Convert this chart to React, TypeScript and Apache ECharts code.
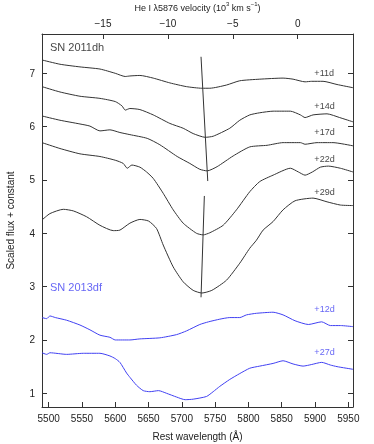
import React, { useEffect, useRef } from 'react';
import * as echarts from 'echarts';

const wavelengthTicks = [5500, 5550, 5600, 5650, 5700, 5750, 5800, 5850, 5900, 5950];
const fluxTicks = [1, 2, 3, 4, 5, 6, 7];
const velocityTicks = [-15, -10, -5, 0];

const dh11: [number, number][] = [
  [5490, 7.25], [5517, 7.17], [5547, 7.12], [5577, 7.08], [5600, 7.0], [5615, 6.94], [5622, 6.95],
  [5637, 6.96], [5657, 6.91], [5682, 6.82], [5707, 6.75], [5730, 6.72], [5742, 6.72], [5767, 6.78],
  [5787, 6.86], [5817, 6.89], [5852, 6.91], [5867, 6.89], [5885, 6.84], [5895, 6.85], [5912, 6.85],
  [5933, 6.79], [5957, 6.73],
];
const dh14: [number, number][] = [
  [5490, 6.75], [5517, 6.65], [5547, 6.57], [5577, 6.53], [5600, 6.47], [5610, 6.39], [5615, 6.31],
  [5622, 6.34], [5637, 6.32], [5657, 6.22], [5682, 6.06], [5702, 5.97], [5717, 5.87], [5735, 5.8],
  [5747, 5.82], [5772, 5.97], [5787, 6.12], [5802, 6.22], [5817, 6.26], [5837, 6.29], [5863, 6.29],
  [5878, 6.22], [5885, 6.17], [5897, 6.22], [5918, 6.24], [5937, 6.17], [5957, 6.09],
];
const dh17: [number, number][] = [
  [5490, 6.2], [5517, 6.12], [5547, 6.05], [5562, 6.01], [5577, 5.92], [5592, 5.94], [5607, 5.89],
  [5622, 5.85], [5648, 5.78], [5667, 5.66], [5693, 5.44], [5712, 5.31], [5727, 5.2], [5738, 5.17],
  [5753, 5.25], [5777, 5.45], [5802, 5.62], [5828, 5.65], [5852, 5.7], [5878, 5.7], [5885, 5.67],
  [5903, 5.7], [5927, 5.7], [5957, 5.64],
];
const dh22: [number, number][] = [
  [5490, 5.7], [5517, 5.59], [5547, 5.49], [5577, 5.44], [5600, 5.37], [5612, 5.31], [5618, 5.22],
  [5625, 5.28], [5637, 5.24], [5647, 5.15], [5657, 5.03], [5672, 4.75], [5687, 4.44], [5702, 4.19],
  [5722, 4.0], [5732, 3.97], [5742, 4.01], [5762, 4.15], [5782, 4.44], [5802, 4.78], [5817, 4.97],
  [5837, 5.09], [5863, 5.22], [5875, 5.15], [5885, 5.09], [5896, 5.15], [5908, 5.24], [5920, 5.26],
  [5938, 5.22], [5957, 5.15],
];
const dh29: [number, number][] = [
  [5490, 4.25], [5502, 4.37], [5522, 4.45], [5537, 4.42], [5557, 4.31], [5577, 4.15], [5597, 4.05],
  [5607, 4.06], [5622, 4.19], [5637, 4.26], [5650, 4.23], [5662, 4.09], [5672, 3.78], [5687, 3.37],
  [5702, 3.09], [5717, 2.93], [5730, 2.88], [5745, 2.93], [5767, 3.12], [5787, 3.44], [5802, 3.72],
  [5812, 3.87], [5822, 4.06], [5837, 4.22], [5852, 4.44], [5870, 4.61], [5897, 4.66], [5918, 4.59],
  [5938, 4.53], [5957, 4.52],
];
const df12: [number, number][] = [
  [5490, 2.42], [5497, 2.4], [5502, 2.45], [5510, 2.42], [5527, 2.37], [5547, 2.28], [5562, 2.19],
  [5577, 2.09], [5592, 2.05], [5600, 2.0], [5622, 2.0], [5637, 2.02], [5667, 2.04], [5692, 2.1],
  [5707, 2.17], [5727, 2.29], [5740, 2.34], [5757, 2.39], [5772, 2.42], [5787, 2.42], [5797, 2.47],
  [5812, 2.5], [5837, 2.52], [5852, 2.47], [5870, 2.36], [5890, 2.29], [5910, 2.34], [5923, 2.27],
  [5938, 2.27], [5957, 2.25],
];
const df27: [number, number][] = [
  [5490, 1.76], [5497, 1.73], [5502, 1.76], [5527, 1.73], [5552, 1.75], [5577, 1.75], [5592, 1.7],
  [5600, 1.65], [5607, 1.58], [5617, 1.38], [5622, 1.3], [5632, 1.15], [5642, 1.05], [5652, 1.03],
  [5665, 1.05], [5677, 1.0], [5692, 0.93], [5705, 0.88], [5717, 0.89], [5737, 0.94], [5747, 1.03],
  [5757, 1.13], [5772, 1.26], [5787, 1.37], [5802, 1.47], [5817, 1.51], [5837, 1.56], [5852, 1.61],
  [5867, 1.55], [5882, 1.51], [5895, 1.54], [5910, 1.58], [5923, 1.53], [5933, 1.5], [5957, 1.45],
];
const velLine1: [number, number][] = [[5728.8, 7.31], [5738.9, 4.98]];
const velLine2: [number, number][] = [[5733.8, 4.7], [5728.8, 2.8]];

const epochLabels = ['+11d', '+14d', '+17d', '+22d', '+29d', '+12d', '+27d'];
const epochLabelY = [7.0, 6.39, 5.9, 5.39, 4.77, 2.58, 1.78];
const epochLabelX = 5899;
const objectNames = ['SN 2011dh', 'SN 2013df'];
const objectNameY = [7.49, 3.0];
const objectNameX = 5502;

const BLACK = '#333333';
const BLUE = '#4040f2';
const FONT = "'Liberation Sans', Arial, Helvetica, sans-serif";

export default function App() {
  const ref = useRef<HTMLDivElement>(null);
  useEffect(() => {
    if (!ref.current) return;
    const chart = echarts.init(ref.current, undefined, { renderer: 'svg' });
    const lineSeries = (data: [number, number][], color: string) => ({
      type: 'line',
      data,
      showSymbol: false,
      smooth: 0.2,
      lineStyle: { color, width: 1 },
      xAxisIndex: 0,
      yAxisIndex: 0,
      silent: true,
    });
    const axisLine = { show: true, onZero: false, lineStyle: { color: BLACK, width: 1 } };
    chart.setOption({
      animation: false,
      textStyle: { fontFamily: FONT },
      grid: { left: 42, top: 34, width: 311, height: 373, containLabel: false, outerBoundsMode: 'none' },
      xAxis: [
        {
          type: 'value',
          position: 'bottom',
          min: 5490,
          max: 5957,
          axisLine,
          axisTick: { inside: true, length: 5, customValues: wavelengthTicks, lineStyle: { color: BLACK } },
          axisLabel: {
            customValues: wavelengthTicks,
            fontSize: 10,
            color: '#222',
            margin: 6,
            fontFamily: FONT,
            formatter: (v: number) => String(v),
          },
          splitLine: { show: false },
          name: 'Rest wavelength (Å)',
          nameLocation: 'middle',
          nameGap: 24,
          nameTextStyle: { fontSize: 10, color: '#222', fontFamily: FONT },
        },
        {
          type: 'value',
          position: 'top',
          min: -19.7,
          max: 4.26,
          axisLine,
          axisTick: { inside: true, length: 5, customValues: velocityTicks, lineStyle: { color: BLACK } },
          axisLabel: {
            customValues: velocityTicks,
            fontSize: 10,
            color: '#222',
            margin: 6,
            fontFamily: FONT,
            formatter: (v: number) => String(v).replace('-', '\u2212'),
          },
          splitLine: { show: false },
          name: '{a|He I λ5876 velocity (10}{s|3}{a| km s}{s|\u22121}{a|)}',
          nameLocation: 'middle',
          nameGap: 22,
          nameTextStyle: {
            fontSize: 9,
            color: '#222',
            fontFamily: FONT,
            rich: {
              a: { fontSize: 9, color: '#222', fontFamily: FONT, verticalAlign: 'bottom' },
              s: { fontSize: 6, color: '#222', fontFamily: FONT, verticalAlign: 'bottom', padding: [0, 0, 5, 0] },
            },
          },
        },
      ],
      yAxis: [
        {
          type: 'value',
          position: 'left',
          min: 0.743,
          max: 7.737,
          axisLine,
          axisTick: { inside: true, length: 5, customValues: fluxTicks, lineStyle: { color: BLACK } },
          axisLabel: { customValues: fluxTicks, fontSize: 10, color: '#222', margin: 7, fontFamily: FONT },
          splitLine: { show: false },
          name: 'Scaled flux + constant',
          nameLocation: 'middle',
          nameGap: 27,
          nameTextStyle: { fontSize: 10, color: '#222', fontFamily: FONT },
        },
        {
          type: 'value',
          position: 'right',
          min: 0.743,
          max: 7.737,
          axisLine,
          axisTick: { inside: true, length: 5, customValues: fluxTicks, lineStyle: { color: BLACK } },
          axisLabel: { show: false },
          splitLine: { show: false },
        },
      ],
      series: [
        lineSeries(dh11, BLACK),
        lineSeries(dh14, BLACK),
        lineSeries(dh17, BLACK),
        lineSeries(dh22, BLACK),
        lineSeries(dh29, BLACK),
        lineSeries(df12, BLUE),
        lineSeries(df27, BLUE),
        { ...lineSeries(velLine1, BLACK), smooth: false },
        { ...lineSeries(velLine2, BLACK), smooth: false },
        {
          type: 'scatter',
          symbolSize: 0,
          silent: true,
          data: epochLabels.map((t, i) => ({
            value: [epochLabelX, epochLabelY[i]],
            label: {
              show: true,
              formatter: t,
              position: 'right',
              distance: 0,
              fontSize: 9,
              fontFamily: FONT,
              color: i < 5 ? '#111' : BLUE,
            },
          })),
        },
        {
          type: 'scatter',
          symbolSize: 0,
          silent: true,
          data: objectNames.map((t, i) => ({
            value: [objectNameX, objectNameY[i]],
            label: {
              show: true,
              formatter: t,
              position: 'right',
              distance: 0,
              fontSize: 11,
              fontFamily: FONT,
              color: i === 0 ? '#111' : BLUE,
            },
          })),
        },
      ],
    });
    return () => chart.dispose();
  }, []);
  return <div ref={ref} style={{ position: 'fixed', left: 0, top: 0, width: 374, height: 444 }} />;
}
